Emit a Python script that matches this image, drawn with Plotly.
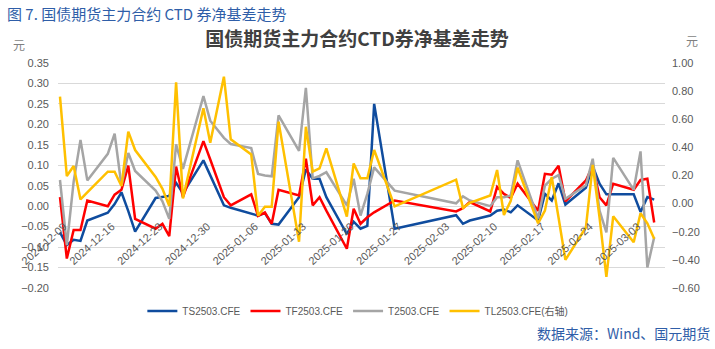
import plotly.graph_objects as go

# Trading dates (CTD net basis, daily)
dates = [
    "2024-12-09", "2024-12-10", "2024-12-11", "2024-12-12", "2024-12-13",
    "2024-12-16", "2024-12-17", "2024-12-18", "2024-12-19", "2024-12-20",
    "2024-12-23", "2024-12-24", "2024-12-25", "2024-12-26", "2024-12-27",
    "2024-12-30", "2024-12-31", "2025-01-02", "2025-01-03",
    "2025-01-06", "2025-01-07", "2025-01-08", "2025-01-09", "2025-01-10",
    "2025-01-13", "2025-01-14", "2025-01-15", "2025-01-16", "2025-01-17",
    "2025-01-20", "2025-01-21", "2025-01-22", "2025-01-23", "2025-01-24",
    "2025-01-27", "2025-02-05", "2025-02-06", "2025-02-07",
    "2025-02-10", "2025-02-11", "2025-02-12", "2025-02-13", "2025-02-14",
    "2025-02-17", "2025-02-18", "2025-02-19", "2025-02-20", "2025-02-21",
    "2025-02-24", "2025-02-25", "2025-02-26", "2025-02-27", "2025-02-28",
    "2025-03-03", "2025-03-04", "2025-03-05", "2025-03-06",
]

ts2503 = [
    -0.064, -0.095, -0.082, -0.085, -0.035,
    -0.016, 0.005, 0.034, -0.012, -0.062,
    0.020, 0.023, 0.025, 0.057, 0.032,
    0.112, 0.076, 0.002, -0.004,
    -0.017, -0.023, -0.017, -0.043, -0.045,
    0.022, 0.090, 0.067, 0.067, 0.022,
    -0.068, -0.038, -0.055, -0.048, 0.250,
    -0.055, -0.022, -0.043, -0.035,
    -0.023, -0.011, -0.008, -0.015, 0.002,
    -0.035, 0.030, 0.014, 0.056, 0.004,
    0.045, 0.098, 0.055, 0.029, 0.029,
    0.029, -0.014, 0.022, 0.016,
]

tf2503 = [
    0.022, -0.128, -0.058, -0.058, 0.014,
    0.000, 0.028, 0.040, 0.099, -0.031,
    -0.055, -0.043, -0.073, 0.097, 0.022,
    0.159, 0.114, 0.022, 0.002,
    0.029, -0.024, -0.015, -0.043, 0.040,
    0.026, 0.116, 0.002, 0.022, -0.011,
    -0.104, -0.006, -0.043, -0.027, -0.015,
    0.014, -0.013, -0.005, 0.010,
    -0.013, 0.047, 0.030, 0.020, 0.055,
    -0.011, 0.079, 0.077, 0.099, 0.012,
    0.063, 0.099, 0.022, 0.002, 0.055,
    0.040, 0.064, 0.067, -0.040,
]

t2503 = [
    0.064, -0.095, 0.060, 0.162, 0.063,
    0.128, 0.177, 0.050, 0.130, 0.086,
    0.038, 0.012, -0.031, 0.151, 0.091,
    0.269, 0.209, 0.167, 0.152,
    0.142, 0.079, 0.075, 0.073, 0.222,
    0.135, 0.289, 0.068, 0.074, 0.083,
    0.002, 0.067, -0.023, 0.030, 0.095,
    0.038, 0.007, 0.024, 0.014,
    0.000, 0.022, 0.022, 0.026, 0.112,
    -0.030, 0.050, 0.067, 0.076, 0.018,
    0.051, 0.116, -0.011, -0.064, 0.118,
    0.040, 0.134, -0.150, -0.076,
]

tl2503 = [
    0.761, 0.196, 0.267, 0.030, 0.080,
    0.227, 0.227, 0.125, 0.512, 0.381,
    0.190, 0.105, -0.017, 0.862, 0.037,
    0.678, 0.433, 0.903, 0.457,
    0.350, -0.086, -0.022, -0.022, 0.583,
    -0.271, 0.547, 0.227, 0.251, 0.393,
    -0.093, 0.286, 0.180, 0.180, 0.381,
    -0.020, 0.170, -0.030, 0.005,
    0.058, 0.239, -0.081, 0.020, 0.255,
    -0.140, -0.050, 0.190, -0.100, -0.400,
    -0.170, 0.275, -0.100, -0.520, -0.090,
    -0.275, -0.069, -0.140, -0.250,
]

series_names = ["TS2503.CFE", "TF2503.CFE", "T2503.CFE", "TL2503.CFE(右轴)"]
series_colors = ["#0f4c9e", "#ff0000", "#a5a5a5", "#ffc000"]

TICK_FONT = dict(family="Liberation Sans, Arial, sans-serif", size=11, color="#595959")
CJK = "Noto Sans CJK SC"

fig = go.Figure()
for name, vals, color, axis in zip(
    series_names, [ts2503, tf2503, t2503, tl2503], series_colors, ["y", "y", "y", "y2"]
):
    fig.add_trace(go.Scatter(
        x=dates, y=vals, name=name, mode="lines", yaxis=axis,
        line=dict(color=color, width=2.5),
    ))

fig.update_layout(
    width=715, height=349,
    margin=dict(l=58, r=50, t=63, b=61),
    paper_bgcolor="white", plot_bgcolor="white",
    showlegend=True,
    title=dict(
        text="<b>国债期货主力合约CTD券净基差走势</b>",
        font=dict(family=CJK, size=19, color="#404040"),
        x=0.4926, xref="paper", xanchor="center",
        y=1 - 39 / 349, yref="container", yanchor="middle",
    ),
    xaxis=dict(
        type="date",
        range=["2024-12-08 17:00", "2025-03-07 14:00"],
        tick0="2024-12-09", dtick=7 * 86400000,
        tickformat="%Y-%m-%d", tickangle=-42,
        tickfont=TICK_FONT,
        showgrid=False, zeroline=False, showline=False, ticks="",
        anchor="free", position=0.2 / 0.55,
        ticklabelstandoff=11, ticklabelshift=4,
        automargin=False,
    ),
    yaxis=dict(
        range=[-0.2, 0.35], dtick=0.05, tickformat=".2f",
        tickfont=TICK_FONT,
        showgrid=True, gridcolor="#d9d9d9", gridwidth=1,
        zeroline=False, showline=False, ticks="",
        ticklabelstandoff=8, automargin=False,
    ),
    yaxis2=dict(
        range=[-0.6, 1.0], dtick=0.2, tickformat=".2f",
        tickfont=TICK_FONT,
        overlaying="y", side="right", anchor="x",
        showgrid=False, zeroline=False, showline=False, ticks="",
        ticklabelstandoff=6, automargin=False,
    ),
    legend=dict(
        orientation="h", x=0.494, xanchor="center", y=-0.102, yanchor="middle",
        font=dict(family="Liberation Sans, Arial, " + CJK, size=10, color="#595959"),
        itemwidth=30, bgcolor="rgba(0,0,0,0)",
    ),
)

annotations = [
    dict(text="图 7. 国债期货主力合约 CTD 券净基差走势", x=-0.0873, y=1.218,
         xanchor="left", yanchor="middle",
         font=dict(family=CJK, size=15, color="#2f5ea8")),
    dict(text="元", x=-0.064, y=1.084, xanchor="center", yanchor="middle",
         font=dict(family=CJK, size=12, color="#7f7f7f")),
    dict(text="元", x=1.0445, y=1.098, xanchor="center", yanchor="middle",
         font=dict(family=CJK, size=12, color="#7f7f7f")),
    dict(text="数据来源：Wind、国元期货", x=1.077, y=-0.2,
         xanchor="right", yanchor="middle",
         font=dict(family=CJK, size=14, color="#2f5ea8")),
]
for a in annotations:
    fig.add_annotation(xref="paper", yref="paper", showarrow=False, **a)

fig.write_html("out.html")
